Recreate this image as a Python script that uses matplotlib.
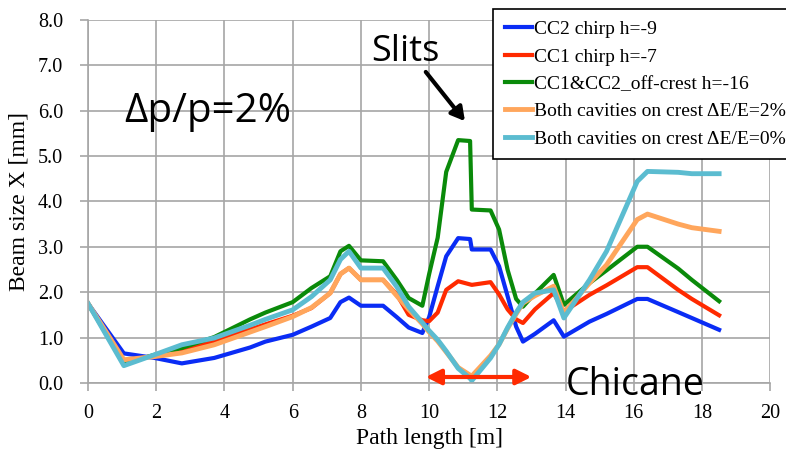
import numpy as np
import matplotlib
matplotlib.use("Agg")
import matplotlib.pyplot as plt

# path length positions [m]
path_m = [0.0, 1.05, 1.95, 2.75, 3.7, 4.75, 5.2, 6.0, 6.55, 7.1, 7.4, 7.65, 8.0, 8.65,
          9.05, 9.4, 9.8, 10.0, 10.25, 10.5, 10.85, 11.2, 11.25, 11.8, 12.05, 12.3,
          12.55, 12.75, 13.1, 13.65, 13.95, 14.7, 15.2, 16.1, 16.4, 17.3, 17.7, 18.5]

cc2_chirp = [1.75, 0.65, 0.55, 0.43, 0.55, 0.78, 0.91, 1.06, 1.24, 1.43, 1.78, 1.88, 1.70, 1.70,
             1.45, 1.22, 1.10, 1.45, 2.13, 2.79, 3.19, 3.17, 2.94, 2.94, 2.57, 1.91,
             1.24, 0.91, 1.08, 1.38, 1.02, 1.35, 1.52, 1.85, 1.85, 1.56, 1.43, 1.17]

cc1_chirp = [1.75, 0.48, 0.60, 0.72, 0.92, 1.18, 1.29, 1.48, 1.65, 1.98, 2.40, 2.53, 2.27, 2.27,
             1.95, 1.50, 1.38, 1.36, 1.55, 2.05, 2.24, 2.17, 2.16, 2.22, 1.95, 1.62,
             1.40, 1.32, 1.62, 1.98, 1.57, 1.94, 2.15, 2.55, 2.55, 2.05, 1.85, 1.49]

off_crest = [1.75, 0.42, 0.62, 0.77, 1.01, 1.40, 1.55, 1.78, 2.09, 2.35, 2.90, 3.02, 2.70, 2.68,
             2.27, 1.87, 1.70, 2.40, 3.20, 4.65, 5.35, 5.33, 3.82, 3.80, 3.38, 2.49,
             1.85, 1.68, 1.97, 2.38, 1.72, 2.20, 2.48, 3.00, 3.00, 2.52, 2.27, 1.80]

crest_2pct = [1.75, 0.51, 0.58, 0.66, 0.84, 1.12, 1.24, 1.46, 1.66, 1.98, 2.40, 2.53, 2.27, 2.27,
              1.92, 1.62, 1.30, 1.12, 0.92, 0.68, 0.34, 0.17, 0.15, 0.60, 0.85, 1.20,
              1.52, 1.76, 1.92, 2.13, 1.54, 2.20, 2.60, 3.60, 3.72, 3.50, 3.42, 3.34]

crest_0pct = [1.75, 0.38, 0.62, 0.84, 0.99, 1.27, 1.40, 1.61, 1.90, 2.27, 2.72, 2.90, 2.53, 2.53,
              2.12, 1.68, 1.33, 1.15, 0.95, 0.70, 0.32, 0.10, 0.05, 0.55, 0.85, 1.22,
              1.55, 1.78, 1.98, 2.05, 1.43, 2.27, 2.90, 4.44, 4.66, 4.64, 4.61, 4.61]

series = [
    ("CC2 chirp h=-9", cc2_chirp, "#0a2cf5", 3.0),
    ("CC1 chirp h=-7", cc1_chirp, "#ff2a00", 3.0),
    ("CC1&CC2_off-crest h=-16", off_crest, "#0a8a0a", 3.0),
    ("Both cavities on crest \u0394E/E=2%", crest_2pct, "#ffa65c", 3.5),
    ("Both cavities on crest \u0394E/E=0%", crest_0pct, "#5bbcd0", 3.5),
]

plt.rcParams["font.family"] = ["Liberation Serif", "DejaVu Serif"]

fig = plt.figure(figsize=(7.86, 4.51), dpi=100)
ax = fig.add_axes([0.112, 0.151, 0.868, 0.805])

for label, vals, color, lw in series:
    ax.plot(path_m, vals, color=color, lw=lw, label=label, solid_joinstyle="round")

ax.set_xlim(0, 20)
ax.set_ylim(0, 8)
ax.set_xticks(np.arange(0, 21, 2))
ax.set_yticks(np.arange(0, 9, 1))
ax.set_yticklabels(["%.1f" % v for v in range(9)])
ax.grid(True, color="#a6a6a6", lw=1.2)
ax.set_axisbelow(True)
for s in ["top", "right"]:
    ax.spines[s].set_visible(False)
for s in ["left", "bottom"]:
    ax.spines[s].set_color("#a6a6a6")
    ax.spines[s].set_linewidth(1.2)
ax.tick_params(colors="#a6a6a6", labelcolor="black", labelsize=14.5, length=6, width=1.2)
ax.tick_params(axis="y", pad=12)
ax.tick_params(axis="x", pad=9)
ax.set_xlabel("Path length [m]", fontsize=17, labelpad=4)
ax.set_ylabel("Beam size X [mm]", fontsize=17, labelpad=6)

sans = ["Open Sans", "DejaVu Sans"]
ax.text(1.05, 5.98, "\u0394p/p=2%", fontsize=29, family=sans, va="center")
ax.text(8.3, 7.3, "Slits", fontsize=26, family=sans, va="center")
ax.annotate("", xy=(11.1, 5.72), xytext=(9.85, 6.9),
            arrowprops=dict(arrowstyle="-|>,head_width=0.45,head_length=0.8", color="black", lw=3))
ax.text(14.0, -0.05, "Chicane", fontsize=27, family=sans, va="center", clip_on=False)
ax.annotate("", xy=(9.82, 0.13), xytext=(13.08, 0.13),
            arrowprops=dict(arrowstyle="<|-|>,head_width=0.45,head_length=0.9", color="#ff2a00", lw=3))

leg = fig.legend(loc="upper left", bbox_to_anchor=(493 / 786, 1 - 9 / 451), fontsize=14,
                 frameon=True, fancybox=False, edgecolor="black", framealpha=1,
                 handlelength=1.4, handletextpad=0.1, labelspacing=0.5, borderpad=0.6,
                 borderaxespad=0)
leg.get_frame().set_linewidth(1.2)

fig.savefig("out.png", dpi=100)
